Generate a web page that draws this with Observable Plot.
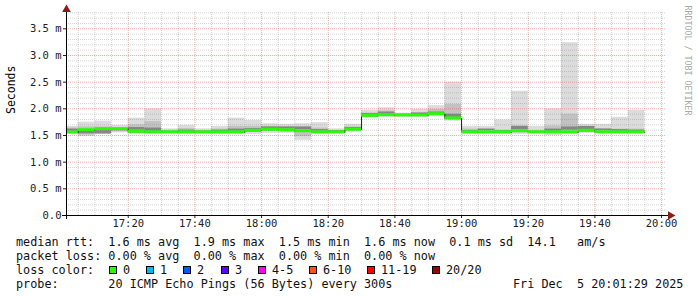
<!DOCTYPE html>
<html><head><meta charset="utf-8">
<script src="https://cdn.jsdelivr.net/npm/d3@7"></script>
<script src="https://cdn.jsdelivr.net/npm/@observablehq/plot@0.6"></script>
<style>
html,body{margin:0;padding:0;background:#fff;}
#wrap{position:relative;width:697px;height:297px;overflow:hidden;font-family:"DejaVu Sans Mono",monospace;background:#fff;}
#chart{position:absolute;left:0;top:0;}
.ln{position:absolute;font-size:11.8px;line-height:14px;white-space:pre;color:#111;}
.box{position:absolute;box-sizing:border-box;width:8px;height:8px;border:1px solid #000;}
</style></head><body><div id="wrap"><div id="chart"></div></div>
<script>
// ---- data ----
const windowStart = "17:01:29";
const windowEnd = "20:01:29";
const binEdges = ["17:00","17:05","17:10","17:15","17:20","17:25","17:30","17:35","17:40","17:45","17:50","17:55",
  "18:00","18:05","18:10","18:15","18:20","18:25","18:30","18:35","18:40","18:45","18:50","18:55",
  "19:00","19:05","19:10","19:15","19:20","19:25","19:30","19:35","19:40","19:45","19:50","19:55"];
const minRtt = [1.52,1.48,1.52,1.55,1.52,1.52,1.53,1.52,1.52,1.52,1.52,1.52,1.54,1.54,1.41,1.52,1.53,1.56,1.83,1.83,1.84,1.84,1.85,1.77,1.52,1.52,1.52,1.52,1.53,1.50,1.52,1.54,1.53,1.53,1.53];
const lowRtt = [1.54,1.51,1.53,1.57,1.55,1.54,1.55,1.54,1.55,1.55,1.55,1.56,1.58,1.57,1.48,1.54,1.55,1.59,1.85,1.86,1.86,1.86,1.88,1.80,1.54,1.55,1.55,1.55,1.55,1.54,1.55,1.57,1.55,1.55,1.55];
const highRtt = [1.64,1.66,1.66,1.64,1.70,1.76,1.59,1.63,1.59,1.62,1.67,1.67,1.67,1.66,1.66,1.64,1.59,1.66,1.92,1.96,1.89,1.93,1.99,2.08,1.62,1.62,1.60,1.68,1.58,1.68,1.90,1.66,1.63,1.62,1.62];
const maxRtt = [1.67,1.75,1.77,1.69,1.825,2.00,1.625,1.69,1.625,1.67,1.825,1.78,1.72,1.71,1.72,1.74,1.625,1.71,1.97,2.02,1.92,1.99,2.06,2.50,1.67,1.67,1.79,2.33,1.67,2.00,3.24,1.71,1.71,1.84,1.97];
const coreLo = [1.58,1.53,1.53,1.59,1.60,1.58,1.56,1.57,1.56,1.57,1.58,1.60,1.62,1.62,1.61,1.58,1.57,1.62,1.89,1.90,1.88,1.89,1.91,1.84,1.57,1.59,1.57,1.61,1.56,1.58,1.60,1.61,1.59,1.58,1.57];
const coreHi = [1.62,1.58,1.59,1.61,1.65,1.64,1.58,1.60,1.58,1.60,1.62,1.63,1.66,1.66,1.66,1.61,1.59,1.65,1.91,1.94,1.90,1.92,1.94,1.90,1.59,1.62,1.59,1.67,1.58,1.62,1.66,1.67,1.62,1.61,1.60];
const medianRtt = [1.556,1.60,1.62,1.62,1.57,1.56,1.56,1.56,1.56,1.56,1.56,1.59,1.61,1.60,1.58,1.56,1.56,1.61,1.87,1.88,1.875,1.875,1.90,1.82,1.56,1.56,1.56,1.58,1.56,1.56,1.56,1.59,1.56,1.56,1.56];
const lossCount = [0,0,0,0,0,0,0,0,0,0,0,0,0,0,0,0,0,0,0,0,0,0,0,0,0,0,0,0,0,0,0,0,0,0,0];
const lossLabels = ["0","1","2","3","4-5","6-10","11-19","20/20"];
const lossUpper = [0,1,2,3,5,10,19,20];
const lossColors = ["#26ff00","#00b8ff","#0059ff","#5e00ff","#ff00ff","#ff5500","#ff0000","#a10000"];
const xTickLabels = ["17:20","17:40","18:00","18:20","18:40","19:00","19:20","19:40","20:00"];
const yTickValues = [0,0.5,1,1.5,2,2.5,3,3.5];
const yTickLabels = ["0.0","0.5 m","1.0 m","1.5 m","2.0 m","2.5 m","3.0 m","3.5 m"];
const statsLine = "median rtt:  1.6 ms avg  1.9 ms max  1.5 ms min  1.6 ms now  0.1 ms sd  14.1   am/s";
const lossLine = "packet loss: 0.00 % avg  0.00 % max  0.00 % min  0.00 % now";
const probeLine = "probe:       20 ICMP Echo Pings (56 Bytes) every 300s";
const dateText = "Fri Dec  5 20:01:29 2025";

// ---- helpers ----
function T(s){const p=s.split(":").map(Number);return new Date(Date.UTC(2025,11,5,p[0],p[1],p[2]||0));}
const ws = T(windowStart), we = T(windowEnd);
const lossColor = n => lossColors[lossUpper.findIndex(u => n <= u)];
const bins = medianRtt.map((m,i)=>({
  x1: new Date(Math.max(+T(binEdges[i]), +ws)), x2: T(binEdges[i+1]),
  mn: minRtt[i], lo: lowRtt[i], hi: highRtt[i], mx: maxRtt[i], c1: coreLo[i], c2: coreHi[i],
  med: m, color: lossColor(lossCount[i])
}));
const medPts = bins.map(b=>({t:b.x1, v:b.med})).concat([{t:bins[bins.length-1].x2, v:bins[bins.length-1].med}]);
const yMax = 3.806;
const minorY = d3.range(1,39).map(k=>k/10).filter(v=>Math.abs(v*2-Math.round(v*2))>1e-6);
const majorX = xTickLabels.map(T);
const minorX = d3.utcMinute.every(5).range(ws, we).filter(d=>d.getUTCMinutes()%20!==0);
const halfBand = 0.027;
const gridMinor = "rgba(120,120,120,0.32)", gridMajor = "rgba(225,60,60,0.42)";

const chart = Plot.plot({
  width: 697, height: 232,
  marginLeft: 66, marginRight: 31, marginTop: 12, marginBottom: 17,
  style: {fontFamily: "DejaVu Sans Mono", fontSize: "10.5px", background: "transparent", color: "#222", overflow: "visible"},
  x: {type: "utc", domain: [ws, we]},
  y: {domain: [0, yMax]},
  marks: [
    Plot.rectY(bins, {x1:"x1", x2:"x2", y1:"mn", y2:"mx", fill:"#dcdcdc"}),
    Plot.rectY(bins, {x1:"x1", x2:"x2", y1:"lo", y2:"hi", fill:"#c2c2c2"}),
    Plot.rectY(bins, {x1:"x1", x2:"x2", y1:"c1", y2:"c2", fill:"#868686"}),
    Plot.ruleY(minorY, {stroke: gridMinor, strokeDasharray: "1,1"}),
    Plot.ruleX(minorX, {stroke: gridMinor, strokeDasharray: "1,1"}),
    Plot.ruleY(yTickValues.slice(1), {stroke: gridMajor, strokeDasharray: "1,1"}),
    Plot.ruleX(majorX, {stroke: gridMajor, strokeDasharray: "1,1"}),
    Plot.line(medPts, {x:"t", y:"v", curve:"step-after", stroke:"#202020", strokeWidth:1}),
    Plot.rectY(bins, {x1:"x1", x2:"x2", y1: d=>d.med-halfBand, y2: d=>d.med+halfBand, fill: d=>d.color}),
    Plot.axisX({ticks: majorX, tickFormat: d3.utcFormat("%H:%M"), tickSize: 3, tickPadding: 1, label: null}),
    Plot.axisY({ticks: yTickValues, tickFormat: v => yTickLabels[yTickValues.indexOf(v)], tickSize: 3, tickPadding: 2, label: null}),
    Plot.ruleY([0], {stroke:"#000", insetLeft:-4, insetRight:-3}),
    Plot.ruleX([ws], {stroke:"#000", insetTop:-2, insetBottom:-4}),
    Plot.dot([0], {x: ()=>we, y: ()=>0, dx: 4, symbol:"triangle", rotate: 90, r: 3.2, fill:"#8b1a1a", stroke:"none"}),
    Plot.dot([0], {x: ()=>ws, y: ()=>yMax, dy: -3, symbol:"triangle", r: 3.2, fill:"#8b1a1a", stroke:"none"}),
    Plot.text(["Seconds"], {text: d=>d, frameAnchor:"left", dx:-55, rotate:-90, fontSize: 11.5, fill:"#000", lineAnchor:"middle"}),
    Plot.text(["RRDTOOL / TOBI OETIKER"], {text: d=>d, frameAnchor:"top-right", dx: 21, dy: -7, rotate: 90, textAnchor:"start", lineAnchor:"middle", fontSize: 8.3, fill:"#a8a8a8"})
  ]
});
document.getElementById("chart").appendChild(chart);

// ---- legend ----
const wrap = document.getElementById("wrap");
function addLine(txt, left, top){const d=document.createElement("div");d.className="ln";d.style.left=left+"px";d.style.top=top+"px";d.textContent=txt;wrap.appendChild(d);}
addLine(statsLine, 16, 234.5);
addLine(lossLine, 16, 249);
addLine("loss color:", 16, 262.5);
addLine(probeLine, 16, 277);
addLine(dateText, 513, 277);
const boxLeft = [109,146,183,221,258,309,367,432];
lossLabels.forEach((l,i)=>{
  const b=document.createElement("div");b.className="box";b.style.left=boxLeft[i]+"px";b.style.top="265.5px";b.style.background=lossColors[i];wrap.appendChild(b);
  addLine(l, boxLeft[i]+14, 262.5);
});
</script></body></html>
